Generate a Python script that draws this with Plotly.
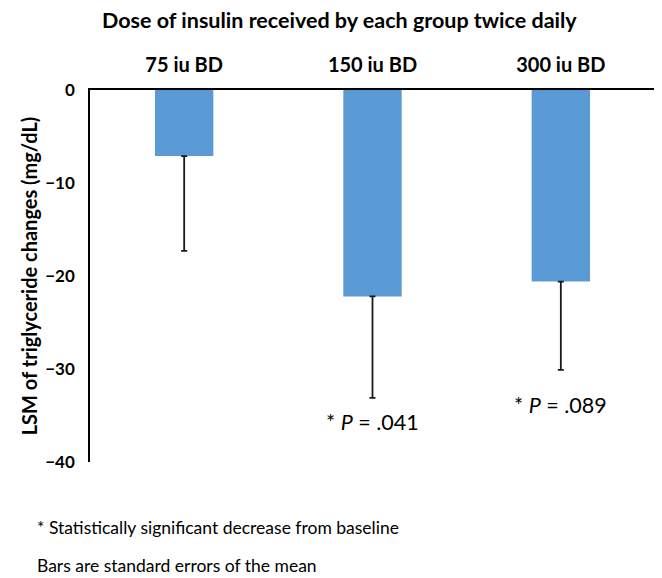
import plotly.graph_objects as go

categories = ["75 iu BD", "150 iu BD", "300 iu BD"]
lsm_values = [-7.1, -22.2, -20.6]
se_values = [10.2, 10.9, 9.5]
p_labels = ["", "* <i>P</i> = .041", "* <i>P</i> = .089"]
y_ticks = [0, -10, -20, -30, -40]

FONT = "Lato"

fig = go.Figure()
fig.add_trace(go.Bar(
    x=categories, y=lsm_values,
    marker=dict(color="#5B9BD5", line=dict(width=0)),
    width=0.31,
    error_y=dict(type="data", symmetric=False, array=[0] * len(se_values),
                 arrayminus=se_values, color="#1a1a1a", thickness=1.8, width=3),
))

# P-value labels below error bars
p_offsets = [0, 2.57, 3.77]
for cat, v, se, lab, off in zip(categories, lsm_values, se_values, p_labels, p_offsets):
    if lab:
        fig.add_annotation(x=cat, y=v - se - off, text=lab, showarrow=False,
                           font=dict(family=FONT, size=21.5, color="black"),
                           xanchor="center", yanchor="middle")

fig.add_annotation(xref="paper", yref="paper", x=0.441, y=1.0, yshift=70,
                   text="<b>Dose of insulin received by each group twice daily</b>",
                   showarrow=False, font=dict(family=FONT, size=21.5, color="black"),
                   xanchor="center", yanchor="middle")
fig.add_annotation(xref="paper", yref="paper", x=-0.097, xanchor="left",
                   y=0, yanchor="middle", yshift=-65,
                   text="* Statistically significant decrease from baseline",
                   showarrow=False, font=dict(family=FONT, size=17.5, color="black"))
fig.add_annotation(xref="paper", yref="paper", x=-0.097, xanchor="left",
                   y=0, yanchor="middle", yshift=-103,
                   text="Bars are standard errors of the mean",
                   showarrow=False, font=dict(family=FONT, size=17.5, color="black"))

# page body has an 8px default margin, so the figure is sized/offset to compensate
fig.update_layout(
    width=654, height=570,
    margin=dict(l=82, r=7, t=82, b=116, autoexpand=False),
    paper_bgcolor="white", plot_bgcolor="white",
    showlegend=False,
    font=dict(family=FONT, color="black"),
    xaxis=dict(side="top", showline=True, linecolor="black", linewidth=1.5,
               ticks="", showgrid=False, zeroline=False,
               tickfont=dict(family=FONT, size=20, color="black", weight="bold"),
               ticklabelstandoff=8),
    yaxis=dict(range=[-40, 0], tickvals=y_ticks, showline=True, linecolor="black",
               linewidth=1.5, ticks="", showgrid=False, zeroline=False,
               tickfont=dict(family=FONT, size=17, color="black", weight="bold"),
               ticklabelstandoff=10,
               title=dict(text="LSM of triglyceride changes (mg/dL)",
                          font=dict(family=FONT, size=20, color="black", weight="bold"),
                          standoff=2)),
)

fig.write_html("out.html")
